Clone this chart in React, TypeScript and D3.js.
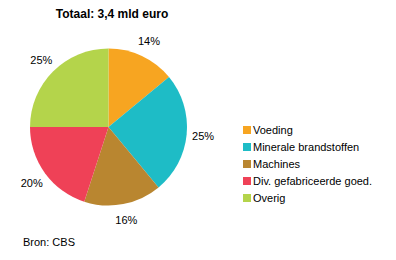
import React from "react";
import * as d3 from "d3";

const categories = ["Voeding", "Minerale brandstoffen", "Machines", "Div. gefabriceerde goed.", "Overig"];
const values = [14, 25, 16, 20, 25];
const colors = ["#F7A521", "#1EBCC6", "#B98630", "#EF4157", "#B4D44B"];
const title = "Totaal: 3,4 mld euro";
const source = "Bron: CBS";

export default function App() {
  const W = 396, H = 260;
  const cx = 108.5, cy = 127, r = 78.5;
  const pie = d3.pie<number>().sort(null).value((d) => d)(values);
  const arc = d3.arc<d3.PieArcDatum<number>>().innerRadius(0).outerRadius(r);
  const labelArc = d3.arc<d3.PieArcDatum<number>>().innerRadius(95).outerRadius(95);
  const font = "'Liberation Sans', Arial, sans-serif";
  return (
    <svg width={W} height={H} style={{ position: "absolute", left: 0, top: 0, background: "#fff" }} fontFamily={font}>
      <text x={112} y={18} textAnchor="middle" fontSize={12} fontWeight="bold" fill="#000">{title}</text>
      <g transform={`translate(${cx},${cy})`}>
        {pie.map((p, i) => (
          <path key={i} d={arc(p) || ""} fill={colors[i]} />
        ))}
        {pie.map((p, i) => {
          const [x, y] = labelArc.centroid(p);
          return (
            <text key={"l" + i} x={x} y={y} dy="0.35em" textAnchor="middle" fontSize={11} fill="#000">
              {values[i]}%
            </text>
          );
        })}
      </g>
      {categories.map((c, i) => (
        <g key={c} transform={`translate(243,${126 + i * 17})`}>
          <rect x={0} y={0} width={8} height={8} fill={colors[i]} />
          <text x={10} y={8} fontSize={11} fill="#000">{c}</text>
        </g>
      ))}
      <text x={23} y={246} fontSize={11} fill="#000">{source}</text>
    </svg>
  );
}
